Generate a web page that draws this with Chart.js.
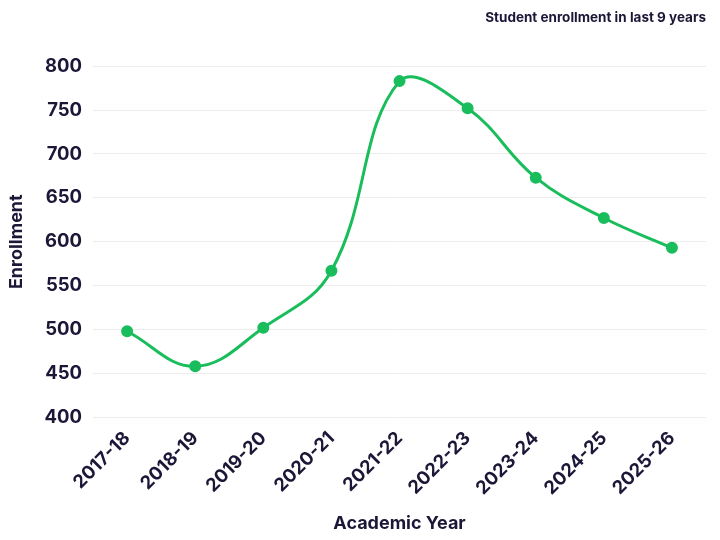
<!DOCTYPE html>
<html><head><meta charset="utf-8">
<script src="https://cdn.jsdelivr.net/npm/chart.js@4.4.0/dist/chart.umd.min.js"></script>
<style>html,body{margin:0;padding:0;background:#fff}#wrap{width:720px;height:540px}</style>
</head><body><div id="wrap"><canvas id="c"></canvas></div>
<script>
const years = ["2017-18","2018-19","2019-20","2020-21","2021-22","2022-23","2023-24","2024-25","2025-26"];
const enrollment = [498,458,502,567,783,752,673,627,593];
const yTicks = {min:400,max:800,step:50};
const ink = "#1c1637";
const green = "#19bd5c";
Chart.defaults.font.family = "Inter, 'Noto Sans', sans-serif";
new Chart(document.getElementById('c'), {
  type:'line',
  data:{labels:years,datasets:[{data:enrollment,borderColor:green,backgroundColor:green,borderWidth:3,tension:0.4,pointRadius:4.5,pointHoverRadius:4.5,fill:false}]},
  options:{
    responsive:true,maintainAspectRatio:false,animation:false,
    layout:{padding:{top:8,right:14,left:2,bottom:2}},
    plugins:{legend:{display:false},tooltip:{enabled:false},
      title:{display:true,text:"Student enrollment in last 9 years",align:'end',color:ink,font:{size:13.5,weight:'bold'},padding:{top:2,bottom:40}}},
    scales:{
      x:{offset:true,grid:{display:false},border:{display:false},
        ticks:{color:ink,font:{size:18.5,weight:'bold'},maxRotation:45,minRotation:45,padding:2},
        title:{display:true,text:"Academic Year",color:ink,font:{size:18,weight:'bold'},padding:{top:11}}},
      y:{min:yTicks.min,max:yTicks.max,grid:{color:"#ececec",drawTicks:false},border:{display:false},
        ticks:{stepSize:yTicks.step,color:ink,font:{size:18.5,weight:'bold'},padding:11},
        title:{display:true,text:"Enrollment",color:ink,font:{size:18,weight:'bold'},padding:{bottom:6}}}
    }
  }
});
</script></body></html>
